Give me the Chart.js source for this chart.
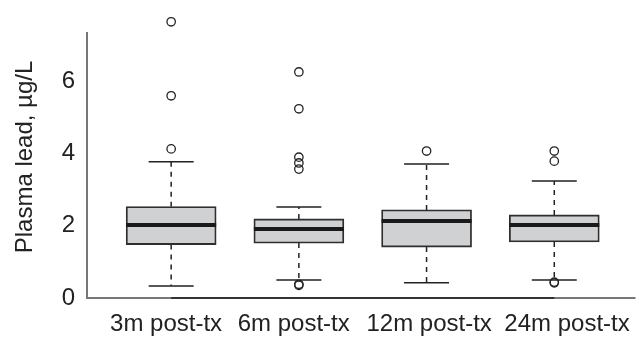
<!DOCTYPE html>
<html>
<head>
<meta charset="utf-8">
<script src="https://cdn.jsdelivr.net/npm/chart.js@4/dist/chart.umd.min.js"></script>
<style>
  html, body { margin: 0; padding: 0; background: #fff; }
  #wrap { width: 641px; height: 337px; }
</style>
</head>
<body>
<div id="wrap"><canvas id="chart"></canvas></div>
<script>
// data
let categories = ['3m post-tx', '6m post-tx', '12m post-tx', '24m post-tx'];
let whiskerLow = [0.33, 0.50, 0.42, 0.50];
let q1 = [1.48, 1.52, 1.41, 1.55];
let median = [2.02, 1.91, 2.13, 2.02];
let q3 = [2.53, 2.19, 2.44, 2.30];
let whiskerHigh = [3.77, 2.52, 3.71, 3.24];
let outliers = [
    [7.65, 5.60, 4.13],
    [6.26, 5.24, 3.90, 3.74, 3.57, 0.38, 0.35],
    [4.07],
    [4.07, 3.79, 0.44, 0.42]
];
let yTicks = [0, 2, 4, 6];

const yAxisTop = 7.37; // where the drawn left axis line stops
// the category labels in the original sit a little apart from the box centres
const labelAt = [0.96, 1.96, 3.02, 4.10];

Chart.defaults.font.family = "'Liberation Sans', Arial, sans-serif";
Chart.defaults.color = '#222';

// boxes as floating bars, outliers as scatter points
let boxData = categories.map((c, i) => ({ x: i + 1, y: [q1[i], q3[i]] }));
let outlierData = [];
outliers.forEach((list, i) => list.forEach(v => outlierData.push({ x: i + 1, y: v })));

// whiskers, caps, medians and axis lines are drawn through the scales
const boxExtras = {
    id: 'boxExtras',
    beforeDatasetsDraw(chart) {
        const ctx = chart.ctx;
        const xs = chart.scales.x, ys = chart.scales.y;
        ctx.save();
        ctx.strokeStyle = '#222';
        ctx.lineWidth = 1.5;
        categories.forEach((c, i) => {
            const x = xs.getPixelForValue(i + 1);
            const half = chart.getDatasetMeta(0).data[i].width / 4;
            // dashed stems
            ctx.setLineDash([5, 5]);
            ctx.beginPath();
            ctx.moveTo(x, ys.getPixelForValue(q3[i]));
            ctx.lineTo(x, ys.getPixelForValue(whiskerHigh[i]));
            ctx.moveTo(x, ys.getPixelForValue(q1[i]));
            ctx.lineTo(x, ys.getPixelForValue(whiskerLow[i]));
            ctx.stroke();
            // caps
            ctx.setLineDash([]);
            ctx.beginPath();
            ctx.moveTo(x - half, ys.getPixelForValue(whiskerHigh[i]));
            ctx.lineTo(x + half, ys.getPixelForValue(whiskerHigh[i]));
            ctx.moveTo(x - half, ys.getPixelForValue(whiskerLow[i]));
            ctx.lineTo(x + half, ys.getPixelForValue(whiskerLow[i]));
            ctx.stroke();
        });
        ctx.restore();
    },
    afterDatasetDraw(chart, args) {
        if (args.index !== 0) return;
        const ctx = chart.ctx;
        const ys = chart.scales.y;
        ctx.save();
        ctx.strokeStyle = '#1a1a1a';
        ctx.lineWidth = 4;
        chart.getDatasetMeta(0).data.forEach((bar, i) => {
            const y = ys.getPixelForValue(median[i]);
            ctx.beginPath();
            ctx.moveTo(bar.x - bar.width / 2, y);
            ctx.lineTo(bar.x + bar.width / 2, y);
            ctx.stroke();
        });
        ctx.restore();
    },
    afterDraw(chart) {
        const ctx = chart.ctx;
        const xs = chart.scales.x, ys = chart.scales.y;
        const area = chart.chartArea;
        ctx.save();
        ctx.lineWidth = 2;
        // grey L frame
        ctx.strokeStyle = '#777';
        ctx.beginPath();
        ctx.moveTo(area.left, ys.getPixelForValue(yAxisTop));
        ctx.lineTo(area.left, area.bottom);
        ctx.lineTo(area.right, area.bottom);
        ctx.stroke();
        // darker axis line between first and last category
        ctx.strokeStyle = '#333';
        ctx.beginPath();
        ctx.moveTo(xs.getPixelForValue(1), area.bottom);
        ctx.lineTo(xs.getPixelForValue(categories.length), area.bottom);
        ctx.stroke();
        ctx.restore();
    }
};

new Chart(document.getElementById('chart').getContext('2d'), {
    type: 'bar',
    data: {
        datasets: [{
            type: 'bar',
            data: boxData,
            backgroundColor: '#d0d1d3',
            borderColor: '#2e2e2e',
            borderWidth: 1.8,
            borderSkipped: false,
            barThickness: 90
        }, {
            type: 'scatter',
            data: outlierData,
            pointStyle: 'circle',
            pointRadius: 4.2,
            pointBackgroundColor: 'rgba(0,0,0,0)',
            pointBorderColor: '#222',
            pointBorderWidth: 1.3,
            clip: false
        }]
    },
    options: {
        responsive: true,
        maintainAspectRatio: false,
        animation: false,
        layout: { padding: { left: 11, top: 16, right: 0, bottom: 0 } },
        plugins: { legend: { display: false }, tooltip: { enabled: false } },
        scales: {
            x: {
                type: 'linear',
                offset: false,
                min: 0.341,
                max: 4.636,
                grid: { display: false, drawTicks: false },
                border: { display: false },
                afterBuildTicks: scale => { scale.ticks = labelAt.map(v => ({ value: v })); },
                afterFit: scale => { scale.height = 39; scale.paddingLeft = 0; scale.paddingRight = 0; },
                ticks: {
                    autoSkip: false,
                    maxRotation: 0,
                    padding: 12,
                    font: { size: 24 },
                    callback: (v, i) => categories[i]
                }
            },
            y: {
                min: 0,
                max: 7.81,
                grid: { display: false, drawTicks: false },
                border: { display: false },
                afterBuildTicks: scale => { scale.ticks = yTicks.map(v => ({ value: v })); },
                afterFit: scale => { scale.width = 76; scale.paddingTop = 0; scale.paddingBottom = 0; },
                ticks: { padding: 12, font: { size: 24 } },
                title: {
                    display: true,
                    text: 'Plasma lead, µg/L',
                    font: { size: 24 },
                    padding: { top: 0, bottom: 22 }
                }
            }
        }
    },
    plugins: [boxExtras]
});
</script>
</body>
</html>
